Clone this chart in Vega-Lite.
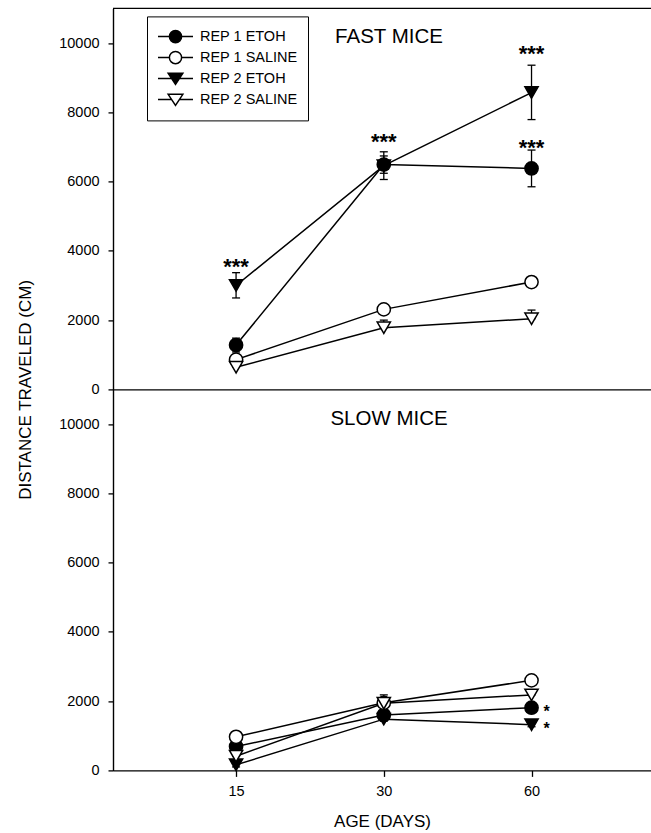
{
  "$schema": "https://vega.github.io/schema/vega-lite/v6.json",
  "autosize": {"type": "pad"},
  "padding": {"left": 16, "top": 7.4, "right": 0, "bottom": 2},
  "background": "white",
  "datasets": {
    "fast": [
      {"group": "REP 1 ETOH", "age": 15, "mean": 1280, "lo": 1080, "hi": 1480},
      {"group": "REP 1 ETOH", "age": 30, "mean": 6490, "lo": 6240, "hi": 6740},
      {"group": "REP 1 ETOH", "age": 60, "mean": 6380, "lo": 5850, "hi": 6910},
      {"group": "REP 1 SALINE", "age": 15, "mean": 860, "lo": 800, "hi": 920},
      {"group": "REP 1 SALINE", "age": 30, "mean": 2310, "lo": 2230, "hi": 2390},
      {"group": "REP 1 SALINE", "age": 60, "mean": 3100, "lo": 3020, "hi": 3180},
      {"group": "REP 2 ETOH", "age": 15, "mean": 3000, "lo": 2640, "hi": 3370},
      {"group": "REP 2 ETOH", "age": 30, "mean": 6460, "lo": 6060, "hi": 6860},
      {"group": "REP 2 ETOH", "age": 60, "mean": 8570, "lo": 7790, "hi": 9360},
      {"group": "REP 2 SALINE", "age": 15, "mean": 640, "lo": 640, "hi": 700},
      {"group": "REP 2 SALINE", "age": 30, "mean": 1780, "lo": 1780, "hi": 2000},
      {"group": "REP 2 SALINE", "age": 60, "mean": 2040, "lo": 2040, "hi": 2290}
    ],
    "slow": [
      {"group": "REP 1 ETOH", "age": 15, "mean": 690, "lo": 610, "hi": 770},
      {"group": "REP 1 ETOH", "age": 30, "mean": 1600, "lo": 1520, "hi": 1680},
      {"group": "REP 1 ETOH", "age": 60, "mean": 1810, "lo": 1730, "hi": 1890},
      {"group": "REP 1 SALINE", "age": 15, "mean": 970, "lo": 900, "hi": 1040},
      {"group": "REP 1 SALINE", "age": 30, "mean": 1950, "lo": 1880, "hi": 2020},
      {"group": "REP 1 SALINE", "age": 60, "mean": 2600, "lo": 2530, "hi": 2670},
      {"group": "REP 2 ETOH", "age": 15, "mean": 160, "lo": 100, "hi": 220},
      {"group": "REP 2 ETOH", "age": 30, "mean": 1480, "lo": 1420, "hi": 1540},
      {"group": "REP 2 ETOH", "age": 60, "mean": 1320, "lo": 1260, "hi": 1380},
      {"group": "REP 2 SALINE", "age": 15, "mean": 410, "lo": 410, "hi": 470},
      {"group": "REP 2 SALINE", "age": 30, "mean": 1940, "lo": 1940, "hi": 2180},
      {"group": "REP 2 SALINE", "age": 60, "mean": 2180, "lo": 2180, "hi": 2240}
    ],
    "fastStars": [
      {"age": 15, "pos": 3670, "label": "***"},
      {"age": 30, "pos": 7300, "label": "***"},
      {"age": 60, "pos": 9830, "label": "***"},
      {"age": 60, "pos": 7100, "label": "***"}
    ],
    "slowStars": [
      {"age": 60, "pos": 1810, "label": "*"},
      {"age": 60, "pos": 1320, "label": "*"}
    ],
    "border": [{"top": 11000}]
  },
  "spacing": 0,
  "bounds": "flush",
  "resolve": {"scale": {"fill": "independent", "shape": "independent"}},
  "config": {
    "view": {"stroke": null},
    "font": "Liberation Sans",
    "axis": {
      "domainColor": "black", "tickColor": "black", "labelColor": "black", "titleColor": "black",
      "labelFont": "Liberation Sans", "titleFont": "Liberation Sans",
      "labelFontSize": 14.5, "titleFontSize": 17, "titleFontWeight": "normal",
      "grid": false, "domainWidth": 1.4, "tickWidth": 1.3, "tickSize": 5
    }
  },
  "vconcat": [
    {
      "width": 538,
      "height": 381,
      "title": {"text": "FAST MICE", "fontSize": 20.5, "fontWeight": "normal", "font": "Liberation Sans", "color": "black", "anchor": "middle", "frame": "group", "baseline": "top", "offset": -40, "dx": 7},
      "resolve": {"scale": {"fill": "independent", "shape": "independent"}},
      "layer": [
        {
          "data": {"name": "border"},
          "mark": {"type": "rule", "color": "black", "strokeWidth": 1.4},
          "encoding": {
            "y": {"field": "top", "type": "quantitative", "scale": {"domain": [0, 11000], "nice": false}, "axis": {"values": [0, 2000, 4000, 6000, 8000, 10000], "format": "d", "title": "DISTANCE TRAVELED (CM)", "titleX": -88, "titleY": 381, "titleAngle": -90, "titleAlign": "center", "titleBaseline": "middle", "labelPadding": 9}}
          }
        },
        {
          "data": {"name": "fast"},
          "mark": {"type": "rule", "color": "black", "strokeWidth": 1.3},
          "encoding": {
            "x": {"field": "age", "type": "quantitative", "scale": {"type": "log", "domain": [8.42, 105.1], "nice": false}, "axis": {"values": [15, 30, 60], "labels": false, "ticks": false, "title": null}},
            "y": {"field": "lo", "type": "quantitative"},
            "y2": {"field": "hi"}
          }
        },
        {
          "data": {"name": "fast"},
          "mark": {"type": "tick", "orient": "horizontal", "size": 8, "thickness": 1.3, "color": "black", "opacity": 1},
          "encoding": {
            "x": {"field": "age", "type": "quantitative"},
            "y": {"field": "lo", "type": "quantitative"}
          }
        },
        {
          "data": {"name": "fast"},
          "mark": {"type": "tick", "orient": "horizontal", "size": 8, "thickness": 1.3, "color": "black", "opacity": 1},
          "encoding": {
            "x": {"field": "age", "type": "quantitative"},
            "y": {"field": "hi", "type": "quantitative"}
          }
        },
        {
          "data": {"name": "fast"},
          "mark": {"type": "line", "color": "black", "strokeWidth": 1.5},
          "encoding": {
            "x": {"field": "age", "type": "quantitative"},
            "y": {"field": "mean", "type": "quantitative"},
            "detail": {"field": "group", "type": "nominal"}
          }
        },
        {
          "data": {"name": "fast"},
          "mark": {"type": "point", "filled": true, "stroke": "black", "strokeWidth": 1.5, "size": 175, "opacity": 1},
          "encoding": {
            "x": {"field": "age", "type": "quantitative"},
            "y": {"field": "mean", "type": "quantitative"},
            "fill": {"field": "group", "type": "nominal", "scale": {"domain": ["REP 1 ETOH", "REP 1 SALINE", "REP 2 ETOH", "REP 2 SALINE"], "range": ["black", "white", "black", "white"]}, "legend": null},
            "shape": {"field": "group", "type": "nominal", "scale": {"domain": ["REP 1 ETOH", "REP 1 SALINE", "REP 2 ETOH", "REP 2 SALINE"], "range": ["circle", "circle", "triangle-down", "triangle-down"]}, "legend": null}
          }
        },
        {
          "data": {"name": "fast"},
          "mark": {"type": "point", "filled": true, "stroke": "black", "strokeWidth": 1.5, "size": 1225, "opacity": 0},
          "encoding": {
            "x": {"field": "age", "type": "quantitative"},
            "y": {"field": "mean", "type": "quantitative"},
            "fill": {
              "field": "group", "type": "nominal",
              "scale": {"domain": ["REP 1 ETOH", "REP 1 SALINE", "REP 2 ETOH", "REP 2 SALINE"], "range": ["black", "white", "black", "white"]},
              "legend": {
                "orient": "none", "legendX": 34, "legendY": 8, "title": null,
                "strokeColor": "black", "fillColor": "white", "padding": 10,
                "clipHeight": 20.3, "rowPadding": 0,
                "labelFont": "Liberation Sans", "labelFontSize": 14.5, "labelColor": "black", "labelOffset": 6,
                "symbolSize": 1225, "symbolOpacity": 1, "symbolStrokeWidth": 1.5
              }
            },
            "shape": {
              "field": "group", "type": "nominal",
              "scale": {"domain": ["REP 1 ETOH", "REP 1 SALINE", "REP 2 ETOH", "REP 2 SALINE"], "range": ["M-1,0H-0.35M0.35,0H1M-0.35,0A0.35,0.35,0,1,1,0.35,0A0.35,0.35,0,1,1,-0.35,0Z", "M-1,0H-0.35M0.35,0H1M-0.35,0A0.35,0.35,0,1,1,0.35,0A0.35,0.35,0,1,1,-0.35,0Z", "M-1,0H-0.22M0.22,0H1M-0.42,-0.3L0.42,-0.3L0,0.34Z", "M-1,0H-0.22M0.22,0H1M-0.42,-0.3L0.42,-0.3L0,0.34Z"]},
              "legend": {
                "orient": "none", "legendX": 34, "legendY": 8, "title": null,
                "strokeColor": "black", "fillColor": "white", "padding": 10,
                "clipHeight": 20.3, "rowPadding": 0,
                "labelFont": "Liberation Sans", "labelFontSize": 14.5, "labelColor": "black", "labelOffset": 6,
                "symbolSize": 1225, "symbolOpacity": 1, "symbolStrokeWidth": 1.5
              }
            }
          }
        },
        {
          "data": {"name": "fastStars"},
          "mark": {"type": "text", "font": "Liberation Sans", "fontSize": 22, "fontWeight": "bold", "baseline": "alphabetic", "align": "center", "dy": 12, "color": "black"},
          "encoding": {
            "x": {"field": "age", "type": "quantitative"},
            "y": {"field": "pos", "type": "quantitative"},
            "text": {"field": "label"}
          }
        }
      ]
    },
    {
      "width": 538,
      "height": 381,
      "title": {"text": "SLOW MICE", "fontSize": 20.5, "fontWeight": "normal", "font": "Liberation Sans", "color": "black", "anchor": "middle", "frame": "group", "baseline": "top", "offset": -40, "dx": 7},
      "layer": [
        {
          "data": {"name": "slow"},
          "mark": {"type": "rule", "color": "black", "strokeWidth": 1.3},
          "encoding": {
            "x": {"field": "age", "type": "quantitative", "scale": {"type": "log", "domain": [8.42, 105.1], "nice": false}, "axis": {"values": [15, 30, 60], "format": "d", "title": "AGE (DAYS)", "tickSize": 6, "labelPadding": 8, "titlePadding": 16, "labelFlush": false}},
            "y": {"field": "lo", "type": "quantitative", "scale": {"domain": [0, 11000], "nice": false}, "axis": {"values": [0, 2000, 4000, 6000, 8000, 10000], "format": "d", "title": null, "labelPadding": 9}},
            "y2": {"field": "hi"}
          }
        },
        {
          "data": {"name": "slow"},
          "mark": {"type": "tick", "orient": "horizontal", "size": 8, "thickness": 1.3, "color": "black", "opacity": 1},
          "encoding": {
            "x": {"field": "age", "type": "quantitative"},
            "y": {"field": "lo", "type": "quantitative"}
          }
        },
        {
          "data": {"name": "slow"},
          "mark": {"type": "tick", "orient": "horizontal", "size": 8, "thickness": 1.3, "color": "black", "opacity": 1},
          "encoding": {
            "x": {"field": "age", "type": "quantitative"},
            "y": {"field": "hi", "type": "quantitative"}
          }
        },
        {
          "data": {"name": "slow"},
          "mark": {"type": "line", "color": "black", "strokeWidth": 1.5},
          "encoding": {
            "x": {"field": "age", "type": "quantitative"},
            "y": {"field": "mean", "type": "quantitative"},
            "detail": {"field": "group", "type": "nominal"}
          }
        },
        {
          "data": {"name": "slow"},
          "mark": {"type": "point", "filled": true, "stroke": "black", "strokeWidth": 1.5, "size": 175, "opacity": 1},
          "encoding": {
            "x": {"field": "age", "type": "quantitative"},
            "y": {"field": "mean", "type": "quantitative"},
            "fill": {"field": "group", "type": "nominal", "scale": {"domain": ["REP 1 ETOH", "REP 1 SALINE", "REP 2 ETOH", "REP 2 SALINE"], "range": ["black", "white", "black", "white"]}, "legend": null},
            "shape": {"field": "group", "type": "nominal", "scale": {"domain": ["REP 1 ETOH", "REP 1 SALINE", "REP 2 ETOH", "REP 2 SALINE"], "range": ["circle", "circle", "triangle-down", "triangle-down"]}, "legend": null}
          }
        },
        {
          "data": {"name": "slowStars"},
          "mark": {"type": "text", "font": "Liberation Sans", "fontSize": 16, "fontWeight": "bold", "baseline": "alphabetic", "align": "center", "dy": 9, "dx": 15, "color": "black"},
          "encoding": {
            "x": {"field": "age", "type": "quantitative"},
            "y": {"field": "pos", "type": "quantitative"},
            "text": {"field": "label"}
          }
        }
      ]
    }
  ]
}
